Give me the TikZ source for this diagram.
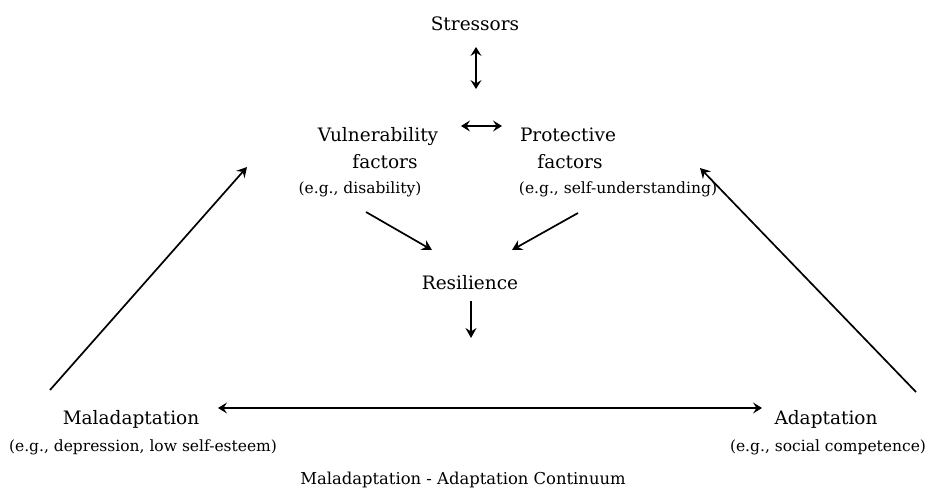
\documentclass[tikz,border=0pt]{standalone}
\usepackage{fontspec}
\setmainfont{DejaVu Serif}
\usetikzlibrary{arrows.meta}
\begin{document}
\begin{tikzpicture}[x=1pt,y=-1pt,
  lbl/.style={anchor=base,inner sep=0pt,font=\fontsize{18.5}{22}\selectfont},
  sub/.style={anchor=base,inner sep=0pt,font=\fontsize{15.5}{18}\selectfont},
  ttl/.style={anchor=base,inner sep=0pt,font=\fontsize{16.4}{19}\selectfont},
  arr/.style={line width=1.7pt,-{Stealth[length=10pt,width=11pt,inset=3.5pt]}},
  dbl/.style={line width=1.7pt,{Stealth[length=9pt,width=11pt,inset=3.5pt]}-{Stealth[length=9pt,width=11pt,inset=3.5pt]}}]
\fill[white] (0,0) rectangle (933,493);
\useasboundingbox (0,0) rectangle (933,493);
% texts
\node[lbl] (stress) at (475,30) {Stressors};
\node[lbl] (vuln) at (378,141) {Vulnerability};
\node[lbl] (vulnf) at (385,168) {factors};
\node[sub] (vulne) at (360,193) {(e.g., disability)};
\node[lbl] (prot) at (568,141) {Protective};
\node[lbl] (protf) at (570,168) {factors};
\node[sub] (prote) at (618,193) {(e.g., self-understanding)};
\node[lbl] (res) at (470,289) {Resilience};
\node[lbl] (mal) at (131,424) {Maladaptation};
\node[sub] (male) at (143,451) {(e.g., depression, low self-esteem)};
\node[lbl] (ada) at (826,424) {Adaptation};
\node[sub] (adae) at (828,451) {(e.g., social competence)};
\node[ttl] (cont) at (463,484) {Maladaptation - Adaptation Continuum};
% connector end points
\coordinate (sA) at (476,47);
\coordinate (sB) at (476,89);
\coordinate (vpL) at (461,126);
\coordinate (vpR) at (502,126);
\coordinate (vS) at (366,212);
\coordinate (rL) at (432,250);
\coordinate (pS) at (578,213);
\coordinate (rR) at (512,250);
\coordinate (rA) at (471,301);
\coordinate (rB) at (471,338);
\coordinate (mR) at (218,408);
\coordinate (aL) at (762,408);
\coordinate (mU) at (50,390);
\coordinate (vT) at (247,167);
\coordinate (aU) at (916,392);
\coordinate (pT) at (700,168);
% connectors
\draw[dbl] (sA) -- (sB);
\draw[dbl] (vpL) -- (vpR);
\draw[arr] (vS) -- (rL);
\draw[arr] (pS) -- (rR);
\draw[arr] (rA) -- (rB);
\draw[dbl] (mR) -- (aL);
\draw[arr] (mU) -- (vT);
\draw[arr] (aU) -- (pT);
\end{tikzpicture}
\end{document}
